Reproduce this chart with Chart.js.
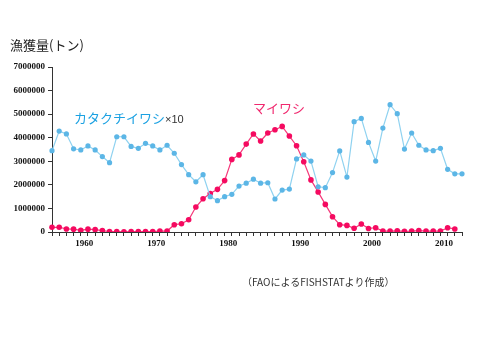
<!DOCTYPE html>
<html>
<head>
<meta charset="utf-8">
<script src="https://cdn.jsdelivr.net/npm/chart.js@4"></script>
<style>
    body { margin: 0; background: #fff; }
    #wrap { position: relative; width: 480px; height: 360px; font-family: "Noto Sans CJK JP", sans-serif; }
    #wrap canvas { position: absolute; left: 0; top: 0; }
    .txt { position: absolute; white-space: nowrap; line-height: 1; }
</style>
</head>
<body>
<div id="wrap">
    <canvas id="catchChart" width="480" height="360"></canvas>
    <div class="txt" style="left:10px; top:38px; font-size:13px; color:#222;">漁獲量(トン)</div>
    <div class="txt" style="left:74px; top:111px; font-size:13px; color:#1ba1e2;">カタクチイワシ<span style="color:#333; font-size:11px; font-family:'Liberation Sans', sans-serif;">×10</span></div>
    <div class="txt" style="left:253px; top:101px; font-size:13px; color:#f0286e;">マイワシ</div>
    <div class="txt" style="left:242px; top:277px; font-size:10px; color:#333;">（FAOによるFISHSTATより作成）</div>
</div>
<script>
// 年 (1956-2013)
const years = [];
for (let y = 1956; y <= 2013; y++) years.push(String(y));

// カタクチイワシ (×10 した値, トン)
const anchovyX10 = [
    3450000, 4280000, 4160000, 3530000, 3480000, 3650000, 3480000, 3200000, 2940000, 4040000,
    4040000, 3630000, 3550000, 3760000, 3650000, 3480000, 3680000, 3340000, 2860000, 2430000,
    2130000, 2430000, 1500000, 1330000, 1500000, 1600000, 1950000, 2070000, 2240000, 2070000,
    2090000, 1400000, 1780000, 1820000, 3100000, 3270000, 3010000, 1920000, 1880000, 2520000,
    3440000, 2330000, 4680000, 4820000, 3800000, 3010000, 4410000, 5400000, 5020000, 3520000,
    4200000, 3680000, 3480000, 3450000, 3550000, 2660000, 2470000, 2470000
];

// マイワシ (トン, 1956-2012)
const sardine = [
    200000, 200000, 130000, 120000, 70000, 120000, 100000, 60000, 20000, 20000,
    10000, 20000, 20000, 20000, 20000, 40000, 40000, 310000, 350000, 520000,
    1060000, 1410000, 1630000, 1810000, 2180000, 3080000, 3270000, 3730000, 4160000, 3860000,
    4200000, 4340000, 4480000, 4070000, 3660000, 2980000, 2210000, 1700000, 1170000, 650000,
    310000, 280000, 160000, 340000, 150000, 180000, 40000, 40000, 50000, 30000,
    40000, 60000, 40000, 40000, 40000, 180000, 130000
];

const yTicks = [0, 1000000, 2000000, 3000000, 4000000, 5000000, 6000000, 7000000];

const tickFont = { family: 'Liberation Serif', size: 9, weight: 'bold' };

new Chart(document.getElementById('catchChart').getContext('2d'), {
    type: 'line',
    data: {
        labels: years,
        datasets: [{
            label: 'カタクチイワシ×10',
            data: anchovyX10,
            borderColor: '#8fd2f0',
            backgroundColor: '#5cb6e6',
            borderWidth: 1.2,
            pointRadius: 2.6,
            pointBorderWidth: 0,
            tension: 0
        }, {
            label: 'マイワシ',
            data: sardine,
            borderColor: '#f5397a',
            backgroundColor: '#f50a60',
            borderWidth: 1.2,
            pointRadius: 2.8,
            pointBorderWidth: 0,
            tension: 0
        }]
    },
    options: {
        responsive: false,
        animation: false,
        layout: { padding: { left: 0, right: 18, top: 67, bottom: 0 } },
        plugins: {
            legend: { display: false },
            tooltip: { enabled: false }
        },
        scales: {
            x: {
                offset: false,
                grid: { offset: false, drawOnChartArea: false, tickLength: 4, color: '#333' },
                border: { color: '#333' },
                ticks: {
                    autoSkip: false,
                    maxRotation: 0,
                    labelOffset: 3.6,
                    padding: 2,
                    color: '#111',
                    font: tickFont,
                    callback: function (val, i) {
                        const y = Number(years[i]);
                        return y % 10 === 0 ? years[i] : '';
                    }
                },
                afterFit: function (s) { s.height = 128; }
            },
            y: {
                min: 0,
                max: 7000000,
                afterBuildTicks: function (s) { s.ticks = yTicks.map(v => ({ value: v })); },
                grid: { drawOnChartArea: false, tickLength: 4, color: '#333' },
                border: { color: '#333' },
                ticks: {
                    padding: 3,
                    color: '#111',
                    font: tickFont,
                    callback: function (value) { return String(value); }
                },
                afterFit: function (s) { s.width = 52; }
            }
        }
    }
});
</script>
</body>
</html>
